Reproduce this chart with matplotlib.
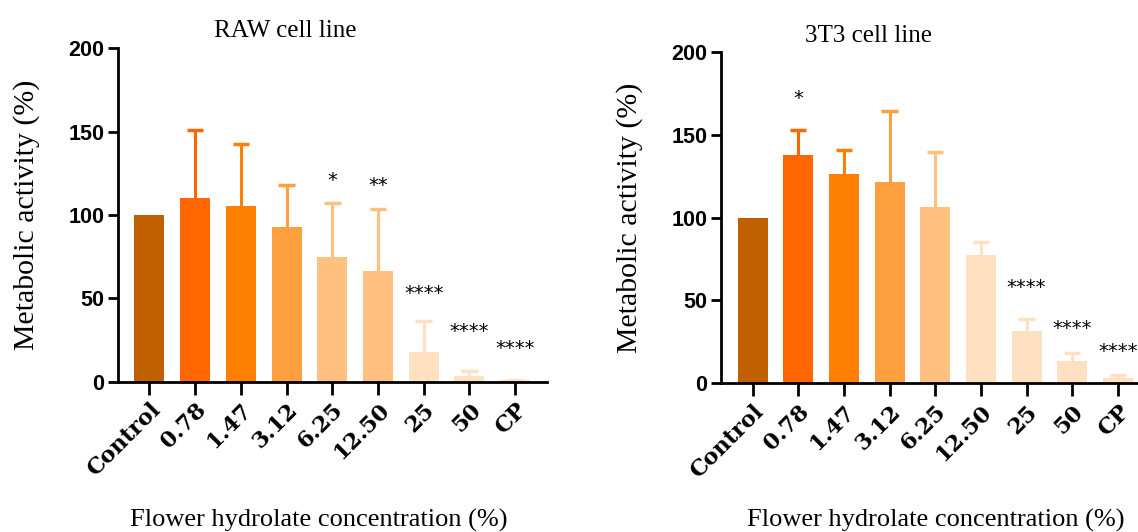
import matplotlib
matplotlib.use("Agg")
import matplotlib.pyplot as plt
import numpy as np

categories = ["Control", "0.78", "1.47", "3.12", "6.25", "12.50", "25", "50", "CP"]

raw_mean = [100, 110.5, 105.5, 92.7, 74.7, 66.7, 17.6, 3.4, 0.8]
raw_err = [0, 40.5, 37.2, 25.3, 32.3, 37.0, 19.0, 2.8, 0.3]
raw_stars = ["", "", "", "", "*", "**", "****", "****", "****"]
raw_star_y = [None, None, None, None, 121, 118, 53, 30, 20]
raw_colors = ["#C06000", "#FF6600", "#FF8000", "#FFA040", "#FFC080",
              "#FFC080", "#FFE0C0", "#FFE0C0", "#FFE0C0"]

t3_mean = [100, 137.5, 126.5, 121.5, 106.5, 77.5, 31.4, 13.4, 3.4]
t3_err = [0, 15.5, 14.0, 42.5, 33.0, 7.5, 7.5, 5.0, 1.4]
t3_stars = ["", "*", "", "", "", "", "****", "****", "****"]
t3_star_y = [None, 172, None, None, None, None, 58, 33, 19]
t3_colors = ["#C06000", "#FF6600", "#FF8000", "#FFA040", "#FFC080",
             "#FFE0C0", "#FFE0C0", "#FFE0C0", "#FFE0C0"]

SERIF = "Liberation Serif"


def draw_panel(ax, means, errs, colors, stars, star_y, xlim):
    x = np.arange(len(categories))
    ax.bar(x, means, width=0.655, color=colors, zorder=2)
    for xi, m, e, c in zip(x, means, errs, colors):
        if e > 0:
            ax.vlines(xi, m, m + e, color=c, linewidth=2.2, zorder=1)
            ax.hlines(m + e, xi - 0.18, xi + 0.18, color=c, linewidth=2.5, zorder=1)
    for xi, s, sy in zip(x, stars, star_y):
        if s:
            ax.text(xi, sy, s, ha="center", va="center", fontsize=14,
                    family="DejaVu Sans")
    ax.set_ylim(0, 200)
    ax.set_xlim(*xlim)
    ax.set_yticks([0, 50, 100, 150, 200])
    ax.set_xticks(x)
    ax.set_xticklabels(categories, rotation=45, ha="right",
                       rotation_mode="anchor", fontsize=16,
                       fontweight="bold", family="DejaVu Serif")
    for lab in ax.get_yticklabels():
        lab.set_fontweight("bold")
        lab.set_fontsize(15.5)
        lab.set_family("Liberation Sans")
    for side in ("top", "right"):
        ax.spines[side].set_visible(False)
    for side in ("left", "bottom"):
        ax.spines[side].set_linewidth(2)
    ax.tick_params(axis="x", width=2, length=9, direction="out")
    ax.tick_params(axis="y", width=2, length=7, direction="out", pad=3)
    ax.set_ylabel("Metabolic activity (%)", family=SERIF, fontsize=21.5)


fig = plt.figure(figsize=(11.38, 5.32), dpi=100)
ax1 = fig.add_axes([0.104, 0.2825, 0.3764, 0.6267])
ax2 = fig.add_axes([0.6336, 0.2795, 0.3664, 0.6233])

draw_panel(ax1, raw_mean, raw_err, raw_colors, raw_stars, raw_star_y, (-0.68, 8.69))
draw_panel(ax2, t3_mean, t3_err, t3_colors, t3_stars, t3_star_y, (-0.69, 8.44))

ax1.yaxis.set_label_coords(-0.183, 0.5)
ax2.yaxis.set_label_coords(-0.187, 0.5)

fig.text(0.2505, 0.942, "RAW cell line", ha="center", va="center",
         family=SERIF, fontsize=18)
fig.text(0.763, 0.932, "3T3 cell line", ha="center", va="center",
         family=SERIF, fontsize=18)
fig.text(0.2805, 0.022, "Flower hydrolate concentration (%)", ha="center",
         va="center", family=SERIF, fontsize=19)
fig.text(0.8225, 0.022, "Flower hydrolate concentration (%)", ha="center",
         va="center", family=SERIF, fontsize=19)

fig.savefig("out.png", dpi=100)
